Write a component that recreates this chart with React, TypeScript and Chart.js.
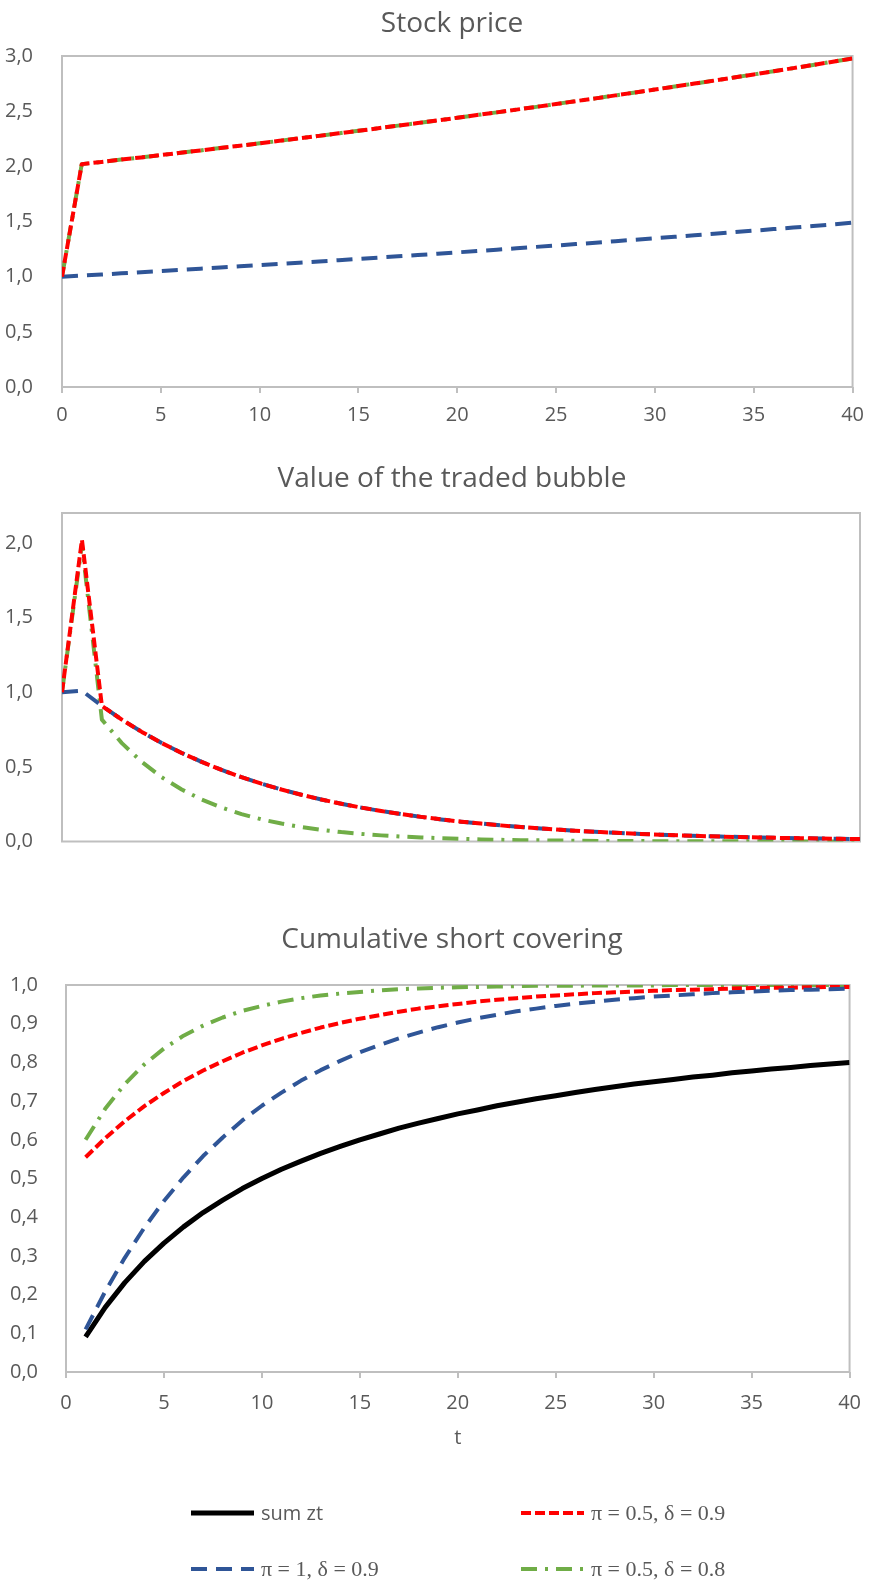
import React, { useEffect, useRef } from 'react';
import { Chart, registerables } from 'chart.js';

Chart.register(...registerables);

// ---------- data ----------
const T_FULL = [0, 1, 2, 3, 4, 5, 6, 7, 8, 9, 10, 11, 12, 13, 14, 15, 16, 17, 18, 19, 20, 21, 22, 23, 24, 25, 26, 27, 28, 29, 30, 31, 32, 33, 34, 35, 36, 37, 38, 39, 40];
const T_COVER = [1, 2, 3, 4, 5, 6, 7, 8, 9, 10, 11, 12, 13, 14, 15, 16, 17, 18, 19, 20, 21, 22, 23, 24, 25, 26, 27, 28, 29, 30, 31, 32, 33, 34, 35, 36, 37, 38, 39, 40];

const PRICE_PI1_D09 = [1.000, 1.010, 1.020, 1.030, 1.041, 1.051, 1.062, 1.072, 1.083, 1.094, 1.105, 1.116, 1.127, 1.138, 1.149, 1.161, 1.173, 1.184, 1.196, 1.208, 1.220, 1.232, 1.245, 1.257, 1.270, 1.282, 1.295, 1.308, 1.321, 1.335, 1.348, 1.361, 1.375, 1.389, 1.403, 1.417, 1.431, 1.445, 1.460, 1.474, 1.489];
const PRICE_PI05_D09 = [1.000, 2.020, 2.040, 2.061, 2.081, 2.102, 2.123, 2.144, 2.166, 2.187, 2.209, 2.231, 2.254, 2.276, 2.299, 2.322, 2.345, 2.369, 2.392, 2.416, 2.440, 2.465, 2.489, 2.514, 2.539, 2.565, 2.591, 2.616, 2.643, 2.669, 2.696, 2.723, 2.750, 2.777, 2.805, 2.833, 2.862, 2.890, 2.919, 2.948, 2.978];
const PRICE_PI05_D08 = [1.000, 2.020, 2.040, 2.061, 2.081, 2.102, 2.123, 2.144, 2.166, 2.187, 2.209, 2.231, 2.254, 2.276, 2.299, 2.322, 2.345, 2.369, 2.392, 2.416, 2.440, 2.465, 2.489, 2.514, 2.539, 2.565, 2.591, 2.616, 2.643, 2.669, 2.696, 2.723, 2.750, 2.777, 2.805, 2.833, 2.862, 2.890, 2.919, 2.948, 2.978];

const BUBBLE_PI1_D09 = [1.000, 1.010, 0.908, 0.816, 0.734, 0.659, 0.593, 0.533, 0.479, 0.431, 0.387, 0.348, 0.313, 0.281, 0.253, 0.227, 0.204, 0.184, 0.165, 0.148, 0.133, 0.120, 0.108, 0.097, 0.087, 0.078, 0.070, 0.063, 0.057, 0.051, 0.046, 0.041, 0.037, 0.033, 0.030, 0.027, 0.024, 0.022, 0.020, 0.018, 0.016];
const BUBBLE_PI05_D09 = [1.000, 2.020, 0.908, 0.816, 0.734, 0.659, 0.593, 0.533, 0.479, 0.431, 0.387, 0.348, 0.313, 0.281, 0.253, 0.227, 0.204, 0.184, 0.165, 0.148, 0.133, 0.120, 0.108, 0.097, 0.087, 0.078, 0.070, 0.063, 0.057, 0.051, 0.046, 0.041, 0.037, 0.033, 0.030, 0.027, 0.024, 0.022, 0.020, 0.018, 0.016];
const BUBBLE_PI05_D08 = [1.000, 1.990, 0.816, 0.659, 0.533, 0.430, 0.348, 0.281, 0.227, 0.183, 0.148, 0.120, 0.097, 0.078, 0.063, 0.051, 0.041, 0.033, 0.027, 0.022, 0.018, 0.014, 0.011, 0.009, 0.008, 0.006, 0.005, 0.004, 0.003, 0.003, 0.002, 0.002, 0.001, 0.001, 0.001, 0.001, 0.001, 0.001, 0.000, 0.000, 0.000];

const COVER_SUM_ZT = [0.091, 0.167, 0.231, 0.286, 0.333, 0.375, 0.412, 0.444, 0.474, 0.500, 0.524, 0.545, 0.565, 0.583, 0.600, 0.615, 0.630, 0.643, 0.655, 0.667, 0.677, 0.688, 0.697, 0.706, 0.714, 0.722, 0.730, 0.737, 0.744, 0.750, 0.756, 0.762, 0.767, 0.773, 0.778, 0.783, 0.787, 0.792, 0.796, 0.800];
const COVER_PI05_D09 = [0.555, 0.604, 0.648, 0.687, 0.721, 0.752, 0.779, 0.803, 0.825, 0.844, 0.861, 0.876, 0.890, 0.902, 0.913, 0.922, 0.931, 0.939, 0.945, 0.951, 0.957, 0.962, 0.966, 0.970, 0.973, 0.976, 0.979, 0.981, 0.983, 0.985, 0.987, 0.988, 0.989, 0.991, 0.992, 0.993, 0.993, 0.994, 0.995, 0.995];
const COVER_PI1_D09 = [0.110, 0.208, 0.295, 0.373, 0.442, 0.503, 0.558, 0.606, 0.650, 0.688, 0.722, 0.753, 0.780, 0.804, 0.826, 0.845, 0.862, 0.877, 0.891, 0.903, 0.914, 0.923, 0.932, 0.939, 0.946, 0.952, 0.957, 0.962, 0.966, 0.970, 0.973, 0.976, 0.979, 0.981, 0.983, 0.985, 0.987, 0.988, 0.989, 0.991];
const COVER_PI05_D08 = [0.600, 0.680, 0.744, 0.795, 0.836, 0.869, 0.895, 0.916, 0.933, 0.946, 0.957, 0.966, 0.973, 0.978, 0.982, 0.986, 0.989, 0.991, 0.993, 0.994, 0.995, 0.996, 0.997, 0.998, 0.998, 0.998, 0.999, 0.999, 0.999, 0.999, 1.000, 1.000, 1.000, 1.000, 1.000, 1.000, 1.000, 1.000, 1.000, 1.000];

const BUBBLE_Y_TICKS = [0, 0.5, 1.0, 1.5, 2.0];

const TITLES = ['Stock price', 'Value of the traded bubble', 'Cumulative short covering'];
const X_TITLE = 't';
const LABEL_SUM = 'sum zt';
const LABEL_PI05_D09 = 'π = 0.5, δ = 0.9';
const LABEL_PI1_D09 = 'π = 1, δ = 0.9';
const LABEL_PI05_D08 = 'π = 0.5, δ = 0.8';

// ---------- styles ----------
const RED = '#FF0000';
const BLUE = '#2F5597';
const GREEN = '#70AD47';
const BLACK = '#000000';
const TEXT = '#595959';
const FRAME = '#BFBFBF';
const SANS = '"Open Sans", "DejaVu Sans", sans-serif';
const SERIF = '"Liberation Serif", "DejaVu Serif", serif';

const DASH_RED = [10, 4];
const DASH_BLUE = [16, 9];
const DASH_GREEN = [16, 8, 3, 8];

const pts = (xs: number[], ys: number[]) => ys.map((y, i) => ({ x: xs[i], y }));
const fmt = (v: any) => Number(v).toFixed(1).replace('.', ',');

const framePlugin = {
  id: 'frame',
  beforeDatasetsDraw(chart: any) {
    const { ctx, chartArea: a } = chart;
    ctx.save();
    ctx.strokeStyle = FRAME;
    ctx.lineWidth = 2;
    ctx.strokeRect(a.left, a.top, a.right - a.left, a.bottom - a.top);
    ctx.restore();
  },
};

const titlePlugin = {
  id: 'ctitle',
  afterDraw(chart: any, _args: any, opts: any) {
    if (!opts || !opts.text) return;
    const { ctx } = chart;
    ctx.save();
    ctx.font = `28px ${SANS}`;
    ctx.fillStyle = TEXT;
    ctx.textAlign = 'center';
    ctx.textBaseline = 'alphabetic';
    ctx.fillText(opts.text, opts.x, opts.y);
    ctx.restore();
  },
};

const legendPlugin = {
  id: 'clegend',
  afterDraw(chart: any, _args: any, opts: any) {
    if (!opts || !opts.items) return;
    const { ctx } = chart;
    opts.items.forEach((it: any) => {
      ctx.save();
      ctx.strokeStyle = it.color;
      ctx.lineWidth = it.width;
      ctx.setLineDash(it.dash);
      ctx.beginPath();
      ctx.moveTo(it.x, it.y);
      ctx.lineTo(it.x + 63, it.y);
      ctx.stroke();
      ctx.setLineDash([]);
      ctx.font = it.font;
      ctx.fillStyle = TEXT;
      ctx.textAlign = 'left';
      ctx.textBaseline = 'middle';
      ctx.fillText(it.label, it.x + 70, it.y + 1);
      ctx.restore();
    });
  },
};

function lineDs(label: string, data: any[], color: string, dash: number[], width = 4) {
  return {
    label,
    data,
    borderColor: color,
    backgroundColor: color,
    borderWidth: width,
    borderDash: dash,
    borderJoinStyle: 'round',
    pointRadius: 0,
    tension: 0,
    fill: false,
  };
}

function baseOptions(o: any) {
  return {
    responsive: false,
    animation: false,
    events: [],
    layout: { padding: { left: 0, right: o.padRight, top: o.padTop, bottom: o.padBottom } },
    plugins: {
      legend: { display: false },
      tooltip: { enabled: false },
      title: { display: false },
      ctitle: { text: o.title, x: 452, y: o.titleY },
      clegend: o.legend || {},
    },
    scales: {
      x: {
        type: 'linear',
        min: 0,
        max: 40,
        ticks: {
          display: o.xLabels,
          stepSize: 5,
          padding: o.xTickPad,
          color: TEXT,
          font: { family: SANS, size: 20 },
        },
        grid: {
          display: o.xLabels,
          drawOnChartArea: false,
          drawTicks: true,
          tickLength: 6,
          color: FRAME,
          lineWidth: 2,
        },
        border: { display: false },
        title: o.xTitle
          ? { display: true, text: o.xTitle, color: TEXT, font: { family: SANS, size: 20 }, padding: { top: 0, bottom: 0 } }
          : { display: false },
        afterFit: (s: any) => { s.height = o.xHeight; },
      },
      y: {
        min: 0,
        max: o.yMax,
        ticks: {
          stepSize: o.yStep,
          padding: o.yTickPad,
          color: TEXT,
          font: { family: SANS, size: 20 },
          callback: fmt,
        },
        afterBuildTicks: o.yTicks ? (s: any) => { s.ticks = o.yTicks.map((v: number) => ({ value: v })); } : undefined,
        grid: { display: false },
        border: { display: false },
        afterFit: (s: any) => { s.width = o.yWidth; },
      },
    },
  };
}

const CONFIGS: any[] = [
  {
    top: 0,
    height: 440,
    config: {
      type: 'line',
      data: {
        datasets: [
          lineDs(LABEL_PI05_D09, pts(T_FULL, PRICE_PI05_D09), RED, DASH_RED),
          lineDs(LABEL_PI1_D09, pts(T_FULL, PRICE_PI1_D09), BLUE, DASH_BLUE),
          lineDs(LABEL_PI05_D08, pts(T_FULL, PRICE_PI05_D08), GREEN, DASH_GREEN),
        ],
      },
      options: baseOptions({
        padRight: 17, padTop: 56, padBottom: 0, title: TITLES[0], titleY: 32,
        xLabels: true, xTickPad: 10, xHeight: 53, yMax: 3, yStep: 0.5, yTickPad: 21, yWidth: 62,
      }),
      plugins: [framePlugin, titlePlugin],
    },
  },
  {
    top: 440,
    height: 440,
    config: {
      type: 'line',
      data: {
        datasets: [
          lineDs(LABEL_PI05_D09, pts(T_FULL, BUBBLE_PI05_D09), RED, DASH_RED),
          lineDs(LABEL_PI1_D09, pts(T_FULL, BUBBLE_PI1_D09), BLUE, DASH_BLUE),
          lineDs(LABEL_PI05_D08, pts(T_FULL, BUBBLE_PI05_D08), GREEN, DASH_GREEN),
        ],
      },
      options: baseOptions({
        padRight: 14, padTop: 73, padBottom: 0, title: TITLES[1], titleY: 47,
        xLabels: false, xTickPad: 10, xHeight: 38.5, yMax: 2.2, yStep: 0.5, yTicks: BUBBLE_Y_TICKS, yTickPad: 21, yWidth: 62,
      }),
      plugins: [framePlugin, titlePlugin],
    },
  },
  {
    top: 880,
    height: 703,
    config: {
      type: 'line',
      data: {
        datasets: [
          lineDs(LABEL_PI1_D09, pts(T_COVER, COVER_PI1_D09), BLUE, DASH_BLUE),
          lineDs(LABEL_PI05_D09, pts(T_COVER, COVER_PI05_D09), RED, DASH_RED),
          lineDs(LABEL_PI05_D08, pts(T_COVER, COVER_PI05_D08), GREEN, DASH_GREEN),
          lineDs(LABEL_SUM, pts(T_COVER, COVER_SUM_ZT), BLACK, [], 5),
        ],
      },
      options: baseOptions({
        padRight: 16, padTop: 105, padBottom: 133, title: TITLES[2], titleY: 68,
        xLabels: true, xTickPad: 13, xHeight: 78, xTitle: X_TITLE, yMax: 1, yStep: 0.1, yTickPad: 20, yWidth: 66,
        legend: {
          items: [
            { label: LABEL_SUM, color: BLACK, dash: [], width: 5, x: 191, y: 633, font: `20px ${SANS}` },
            { label: LABEL_PI05_D09, color: RED, dash: DASH_RED, width: 4, x: 521, y: 633, font: `22px ${SERIF}` },
            { label: LABEL_PI1_D09, color: BLUE, dash: DASH_BLUE, width: 4, x: 191, y: 689, font: `22px ${SERIF}` },
            { label: LABEL_PI05_D08, color: GREEN, dash: DASH_GREEN, width: 4, x: 521, y: 689, font: `22px ${SERIF}` },
          ],
        },
      }),
      plugins: [framePlugin, titlePlugin, legendPlugin],
    },
  },
];

function ChartCanvas({ top, height, config }: { top: number; height: number; config: any }) {
  const ref = useRef<HTMLCanvasElement | null>(null);
  useEffect(() => {
    if (!ref.current) return;
    const chart = new Chart(ref.current, config);
    return () => chart.destroy();
  }, []);
  return (
    <canvas
      ref={ref}
      width={874}
      height={height}
      style={{ position: 'absolute', left: 0, top, width: 874, height, display: 'block' }}
    />
  );
}

export default function App() {
  return (
    <div style={{ position: 'absolute', left: 0, top: 0, width: 874, height: 1583, background: '#ffffff', overflow: 'hidden' }}>
      {CONFIGS.map((c, i) => (
        <ChartCanvas key={i} top={c.top} height={c.height} config={c.config} />
      ))}
    </div>
  );
}
